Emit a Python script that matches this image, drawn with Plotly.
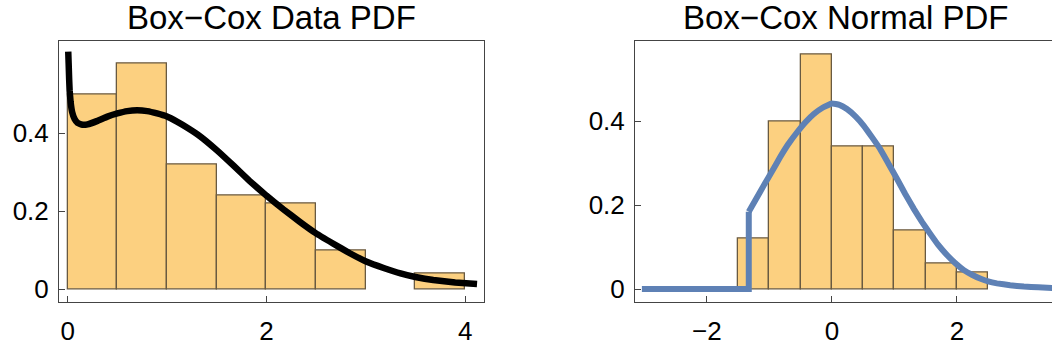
import plotly.graph_objects as go

# ---------------- data ----------------
left_bin_centers = [0.25, 0.75, 1.25, 1.75, 2.25, 2.75, 3.25, 3.75]
left_heights = [0.50, 0.58, 0.32, 0.24, 0.22, 0.10, None, 0.04]
left_bin_width = 0.5

left_curve_x = [0.006, 0.01, 0.015, 0.02, 0.03, 0.045, 0.07, 0.1, 0.15, 0.2, 0.3, 0.4, 0.5,
                0.6, 0.7, 0.8, 0.9, 1.0, 1.1, 1.2, 1.33, 1.5, 1.67, 1.83, 2.0, 2.17, 2.34,
                2.5, 2.67, 2.84, 3.01, 3.18, 3.35, 3.5, 3.68, 3.9, 4.12]
left_curve_y = [0.61, 0.58, 0.54, 0.51, 0.48, 0.455, 0.437, 0.427, 0.422, 0.423, 0.432, 0.443, 0.451,
                0.457, 0.459, 0.457, 0.451, 0.443, 0.43, 0.415, 0.393, 0.357, 0.317, 0.278, 0.24, 0.205, 0.172,
                0.143, 0.117, 0.092, 0.07, 0.054, 0.04, 0.031, 0.023, 0.017, 0.013]

right_bin_centers = [-1.25, -0.75, -0.25, 0.25, 0.75, 1.25, 1.75, 2.25]
right_heights = [0.12, 0.40, 0.56, 0.34, 0.34, 0.14, 0.06, 0.04]
right_bin_width = 0.5

right_step_x = [-3.04, -1.33, -1.33]
right_step_y = [0.0, 0.0, 0.184]
right_curve_x = [-1.33, -1.2, -1.09, -0.96, -0.83, -0.7, -0.56, -0.42, -0.29, -0.15,
                 0.0, 0.12, 0.24, 0.38, 0.51, 0.64, 0.77, 0.9, 1.04, 1.17, 1.31, 1.44, 1.57,
                 1.7, 1.84, 1.97, 2.11, 2.24, 2.37, 2.5, 2.64, 2.85, 3.07, 3.3, 3.6]
right_curve_y = [0.184, 0.218, 0.247, 0.28, 0.314, 0.345, 0.373, 0.398, 0.417, 0.432,
                 0.442, 0.439, 0.429, 0.411, 0.389, 0.362, 0.334, 0.3, 0.263, 0.227, 0.191, 0.16, 0.132,
                 0.105, 0.081, 0.062, 0.045, 0.034, 0.025, 0.018, 0.0135, 0.009, 0.006, 0.004, 0.002]

left_xticks = [0, 2, 4]
left_yticks = [0, 0.2, 0.4]
left_yticklabels = ["0", "0.2", "0.4"]
right_xticks = [-2, 0, 2]
right_xticklabels = ["\u22122", "0", "2"]
right_yticks = [0, 0.2, 0.4]
right_yticklabels = ["0", "0.2", "0.4"]

titles = ["Box\u2212Cox Data PDF", "Box\u2212Cox Normal PDF"]

# ---------------- styles ----------------
BAR_FILL = "rgb(252,208,128)"
BAR_EDGE = "rgb(105,90,65)"
BLUE = "rgb(94,129,181)"
FRAME = "#444444"
FONT = "Liberation Sans, Arial, sans-serif"
W, H = 1052, 353

fig = go.Figure()

fig.add_trace(go.Bar(x=left_bin_centers, y=left_heights, width=left_bin_width,
                     marker=dict(color=BAR_FILL, line=dict(color=BAR_EDGE, width=1.3)),
                     xaxis="x", yaxis="y", showlegend=False))
fig.add_trace(go.Scatter(x=left_curve_x, y=left_curve_y, mode="lines",
                         line=dict(color="black", width=6.5, shape="spline", smoothing=0.3),
                         xaxis="x", yaxis="y", showlegend=False))

fig.add_trace(go.Bar(x=right_bin_centers, y=right_heights, width=right_bin_width,
                     marker=dict(color=BAR_FILL, line=dict(color=BAR_EDGE, width=1.3)),
                     xaxis="x2", yaxis="y2", showlegend=False))
fig.add_trace(go.Scatter(x=right_step_x, y=right_step_y, mode="lines",
                         line=dict(color=BLUE, width=6),
                         xaxis="x2", yaxis="y2", showlegend=False))
fig.add_trace(go.Scatter(x=right_curve_x, y=right_curve_y, mode="lines",
                         line=dict(color=BLUE, width=6, shape="spline", smoothing=0.3),
                         xaxis="x2", yaxis="y2", showlegend=False))

# domains in pixels -> paper fractions
lx0, lx1 = 59 / W, 484 / W
rx0, rx1 = 635 / W, 1.0
y0, y1 = (H - 304) / H, (H - 41.7) / H

axis_common = dict(showgrid=False, zeroline=False, showline=True, linecolor=FRAME, linewidth=1,
                   ticks="inside", ticklen=6, tickcolor=FRAME, tickwidth=1,
                   tickfont=dict(family=FONT, size=26, color="black"))

fig.update_layout(
    width=W, height=H, margin=dict(l=0, r=0, t=0, b=0),
    paper_bgcolor="white", plot_bgcolor="white", bargap=0,
    xaxis=dict(domain=[lx0, lx1], range=[-0.087, 4.19], tickvals=left_xticks,
               ticktext=[str(v) for v in left_xticks], mirror=True, anchor="y",
               ticklabelstandoff=6, **axis_common),
    yaxis=dict(domain=[y0, y1], range=[-0.034, 0.636], tickvals=left_yticks,
               ticktext=left_yticklabels, mirror=True, anchor="x",
               ticklabelstandoff=4, **axis_common),
    xaxis2=dict(domain=[rx0, rx1], range=[-3.15, 3.52], tickvals=right_xticks,
                ticktext=right_xticklabels, mirror=True, anchor="y2",
                ticklabelstandoff=6, **axis_common),
    yaxis2=dict(domain=[y0, y1], range=[-0.0316, 0.59], tickvals=right_yticks,
                ticktext=right_yticklabels, mirror=False, anchor="x2",
                ticklabelstandoff=4, **axis_common),
)

fig.add_annotation(text=titles[0], x=(59 + 484) / 2 / W, y=1 - 18 / H, xref="paper", yref="paper",
                   showarrow=False, xanchor="center", yanchor="middle",
                   font=dict(family=FONT, size=33, color="black"))
fig.add_annotation(text=titles[1], x=846 / W, y=1 - 18 / H, xref="paper", yref="paper",
                   showarrow=False, xanchor="center", yanchor="middle",
                   font=dict(family=FONT, size=33, color="black"))

fig.write_html("out.html")
